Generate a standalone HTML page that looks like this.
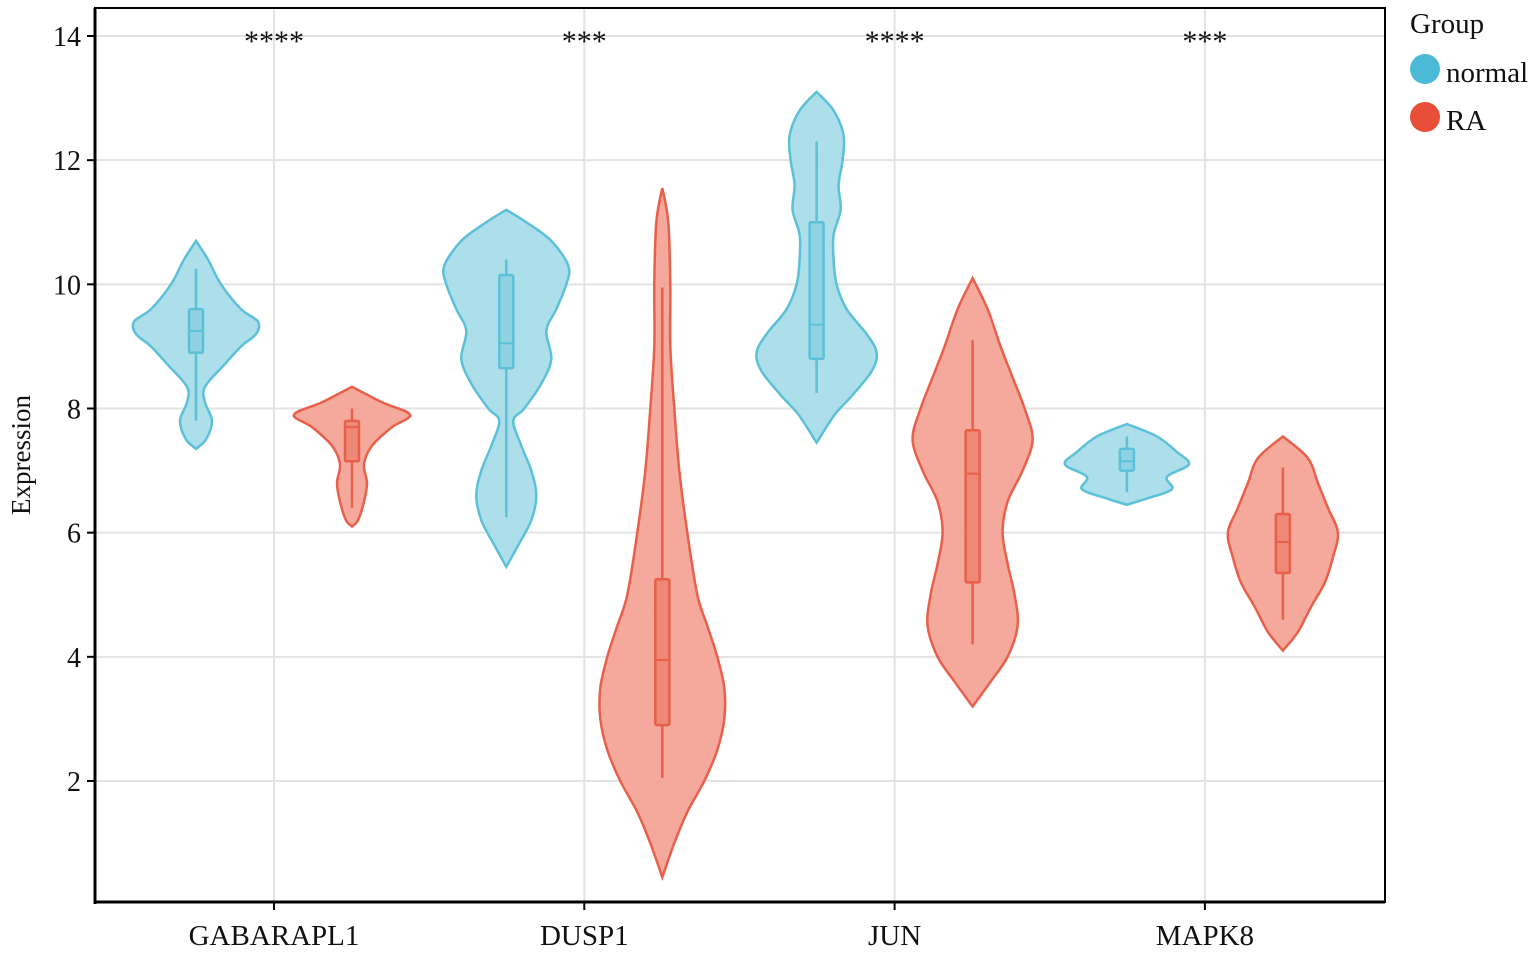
<!DOCTYPE html>
<html><head><meta charset="utf-8"><style>
body{margin:0;background:#fff;}
svg text{font-family:"Liberation Serif",serif;}
</style></head><body>
<svg id="chart" width="1535" height="950" xmlns="http://www.w3.org/2000/svg"></svg>
<script>
const categories=["GABARAPL1","DUSP1","JUN","MAPK8"];
const groups=["normal","RA"];
const stars=["****","***","****","***"];
const yTicks=[2,4,6,8,10,12,14];
const violinLevels=[
 [[7.35,7.5,7.8,8.1,8.35,8.7,9.0,9.2,9.4,9.6,10.0,10.4,10.7],[6.1,6.2,6.5,6.8,7.1,7.4,7.7,7.9,8.1,8.35]],
 [[5.45,5.8,6.2,6.6,7.0,7.4,7.8,8.0,8.4,8.8,9.25,9.6,10.0,10.3,10.7,11.0,11.2],[0.45,1,1.5,2,2.5,3,3.5,4,4.5,5,6,7,8,9,10,11,11.55]],
 [[7.45,7.9,8.2,8.6,8.9,9.2,9.6,10,10.4,10.8,11.2,11.6,12,12.4,12.8,13.1],[3.2,3.6,4,4.5,5,5.5,6,6.5,7,7.5,8,8.5,9,9.6,10.1]],
 [[6.45,6.55,6.7,6.9,7.1,7.3,7.55,7.75],[4.1,4.4,4.8,5.2,5.6,6.0,6.4,6.8,7.2,7.55]]
];
const violinDensity=[
 [[0,10,16,9,9,28,45,60,62,45,25,12,0],[0,6,12,15,12,20,40,58,30,0]],
 [[0,12,25,30,25,15,7,18,35,45,40,50,60,62,45,20,0],[0,12,25,42,55,62,62,55,45,35,25,17,12,8,8,6,0]],
 [[0,18,35,55,60,50,30,20,17,17,24,22,26,27,17,0],[0,18,35,45,42,35,30,35,50,60,52,40,28,15,0]],
 [[0,20,45,40,62,50,30,0],[0,15,28,42,50,55,45,35,25,0]]
];
const boxStats=[
 [[7.8,8.9,9.25,9.6,10.25],[6.4,7.15,7.7,7.8,8.0]],
 [[6.25,8.65,9.05,10.15,10.4],[2.05,2.9,3.95,5.25,9.95]],
 [[8.25,8.8,9.35,11.0,12.3],[4.2,5.2,6.95,7.65,9.1]],
 [[6.65,7.0,7.15,7.35,7.55],[4.6,5.35,5.85,6.3,7.05]]
];
const NS="http://www.w3.org/2000/svg";
const svg=document.getElementById('chart');
const L=95,R=1385,T=8,B=902;
const y=v=>781-(v-2)*(745/12);
const xc=i=>274+i*310.3;
const off=[-78,78];
const fills=["#a8dde8","#f3a497"],strokes=["#5cc0d8","#e8604a"],boxFill=["#8fd3e3","#ee8877"];
function mk(tag,attrs,name){const e=document.createElementNS(NS,tag);for(const k in attrs)e.setAttribute(k,attrs[k]);


svg.appendChild(e);return e;}
yTicks.forEach(t=>{mk('line',{x1:L,x2:R,y1:y(t),y2:y(t),stroke:'#e3e3e3','stroke-width':2},'y-gridline');});
categories.forEach((c,i)=>{mk('line',{x1:xc(i),x2:xc(i),y1:T,y2:B,stroke:'#e3e3e3','stroke-width':2},'x-gridline');});
mk('rect',{x:L,y:T,width:R-L,height:B-T,fill:'none',stroke:'#000','stroke-width':2},'plot-border');
mk('line',{x1:L,x2:L,y1:T,y2:B+2,stroke:'#000','stroke-width':3},'y-axis-line');
mk('line',{x1:L,x2:R,y1:B,y2:B,stroke:'#000','stroke-width':3},'x-axis-line');
yTicks.forEach(t=>{mk('line',{x1:L-8,x2:L,y1:y(t),y2:y(t),stroke:'#000','stroke-width':2},'y-tick');
const tx=mk('text',{x:L-14,y:y(t)+10,'text-anchor':'end','font-size':28,fill:'#111'},'y-tick-label');tx.textContent=t;});
categories.forEach((c,i)=>{mk('line',{x1:xc(i),x2:xc(i),y1:B,y2:B+8,stroke:'#000','stroke-width':2},'x-tick');
const tx=mk('text',{x:xc(i),y:945,'text-anchor':'middle','font-size':29,fill:'#111'},'x-tick-label');tx.textContent=c;
const s=mk('text',{x:xc(i),y:51,'text-anchor':'middle','font-size':30,fill:'#111'},'significance-stars');s.textContent=stars[i];});
const yt=mk('text',{x:0,y:0,'text-anchor':'middle','font-size':27,fill:'#111',transform:'translate(30,455) rotate(-90)'},'y-axis-title');yt.textContent='Expression';
function smooth(pts){let d=`M${pts[0][0]},${pts[0][1]}`;
for(let i=0;i<pts.length-1;i++){const p0=pts[Math.max(i-1,0)],p1=pts[i],p2=pts[i+1],p3=pts[Math.min(i+2,pts.length-1)];
d+=` C${p1[0]+(p2[0]-p0[0])/6},${p1[1]+(p2[1]-p0[1])/6} ${p2[0]-(p3[0]-p1[0])/6},${p2[1]-(p3[1]-p1[1])/6} ${p2[0]},${p2[1]}`;}return d;}
categories.forEach((c,i)=>{groups.forEach((g,j)=>{
const cx=xc(i)+off[j];const lv=violinLevels[i][j],dn=violinDensity[i][j];
const right=lv.map((v,k)=>[cx+dn[k],y(v)]);
const left=lv.map((v,k)=>[cx-dn[k],y(v)]).reverse();
const d=smooth(right)+' '+smooth(left).replace('M','L')+' Z';
mk('path',{d:d,fill:fills[j],stroke:strokes[j],'stroke-width':2.5,'fill-opacity':0.95},'violin-'+g+'-'+c.toLowerCase());
const b=boxStats[i][j];
mk('line',{x1:cx,x2:cx,y1:y(b[0]),y2:y(b[4]),stroke:strokes[j],'stroke-width':2.5},'whisker-'+g+'-'+c.toLowerCase());
mk('rect',{x:cx-7,y:y(b[3]),width:14,height:y(b[1])-y(b[3]),fill:boxFill[j],stroke:strokes[j],'stroke-width':2.5,rx:1.5},'box-'+g+'-'+c.toLowerCase());
mk('line',{x1:cx-7,x2:cx+7,y1:y(b[2]),y2:y(b[2]),stroke:strokes[j],'stroke-width':2},'median-'+g+'-'+c.toLowerCase());
});});
const lt=mk('text',{x:1410,y:33,'font-size':29,fill:'#111'},'legend-title');lt.textContent='Group';
groups.forEach((g,j)=>{mk('circle',{cx:1425,cy:69+j*48,r:15,fill:['#4cbad6','#e84e38'][j]},'legend-swatch-'+g);
const t=mk('text',{x:1446,y:82+j*48,'font-size':29,fill:'#111'},'legend-label-'+g);t.textContent=g;});
</script>
</body></html>
